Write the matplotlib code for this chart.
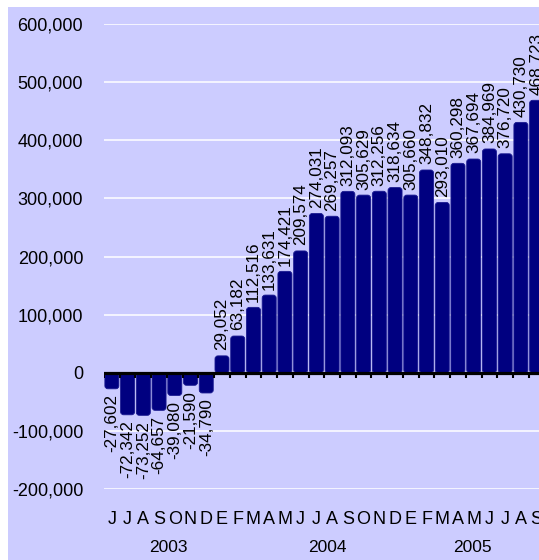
import matplotlib
matplotlib.use("Agg")
import matplotlib.pyplot as plt
from matplotlib.patches import FancyBboxPatch, Rectangle
import matplotlib.transforms as mtransforms

plt.rcParams['font.family'] = ['Liberation Sans', 'DejaVu Sans']

# monthly values, June 2003 .. September 2005
months = ['J', 'J', 'A', 'S', 'O', 'N', 'D',
          'E', 'F', 'M', 'A', 'M', 'J', 'J', 'A', 'S', 'O', 'N', 'D',
          'E', 'F', 'M', 'A', 'M', 'J', 'J', 'A', 'S']
values = [-27602, -72342, -73252, -64657, -39080, -21590, -34790,
          29052, 63182, 112516, 133631, 174421, 209574, 274031, 269257,
          312093, 305629, 312256, 318634,
          305660, 348832, 293010, 360298, 367694, 384969, 376720,
          430730, 468723]
years = ['2003', '2004', '2005']
year_pos = [3.6, 13.7, 22.9]
yticks = [-200000, -100000, 0, 100000, 200000, 300000, 400000, 500000, 600000]

W, H = 539, 560
fig = plt.figure(figsize=(W / 100, H / 100), dpi=100)
fig.patch.set_facecolor('white')
fig.patches.append(Rectangle((8 / W, 0), 1, (H - 7) / H, transform=fig.transFigure,
                             facecolor='#CCCCFF', edgecolor='none', zorder=-10))

ax = fig.add_axes([104 / W, (H - 489) / H, 440.5 / W, 465 / H])
ax.set_facecolor('none')
ax.set_xlim(-0.5, len(values) - 0.5)
ax.set_ylim(-200000, 600000)

for s in ax.spines.values():
    s.set_visible(False)

for y in yticks:
    if y != 0:
        ax.axhline(y, color='white', lw=1.1, zorder=1)

# bars with rounded corners
x = list(range(len(values)))
bars = ax.bar(x, values, width=0.89, color='#000080')
px_x = 1 / 15.73
px_y = 100000 / 58.1
for b in bars:
    bx, by = b.get_x(), b.get_y()
    bw, bh = b.get_width(), b.get_height()
    if bh < 0:
        by, bh = by + bh, -bh
    fp = FancyBboxPatch((bx, by), bw, bh,
                        boxstyle='round,pad=0,rounding_size=%f' % (3 * px_x),
                        mutation_aspect=px_y / px_x,
                        facecolor='#000080', edgecolor='#1a1a90', lw=0.6, zorder=3)
    ax.add_patch(fp)
    b.remove()

ax.axhline(0, color='black', lw=2.3, zorder=4)
ax.vlines([i - 0.5 for i in range(len(values) + 1)], -5 * px_y, 0,
          color='black', lw=1.5, zorder=4)

for i, v in enumerate(values):
    off = 4 if v >= 0 else -4
    ax.annotate(f'{v:,}', (i, v), xytext=(0, off), textcoords='offset points',
                rotation=90, ha='center', va='bottom' if v >= 0 else 'top',
                fontsize=12.3, color='black', zorder=5)

ax.set_yticks(yticks)
ax.set_yticklabels([f'{t:,}' for t in yticks], fontsize=13)
ax.tick_params(axis='y', length=0, pad=15)
ax.set_xticks(x)
ax.set_xticklabels(months, fontsize=13)
ax.tick_params(axis='x', length=0, pad=16)

trans = mtransforms.blended_transform_factory(ax.transData, fig.transFigure)
for yr, p in zip(years, year_pos):
    ax.text(p, (H - 547) / H, yr, transform=trans, ha='center', va='center', fontsize=12.5)

fig.savefig('out.png', dpi=100)
